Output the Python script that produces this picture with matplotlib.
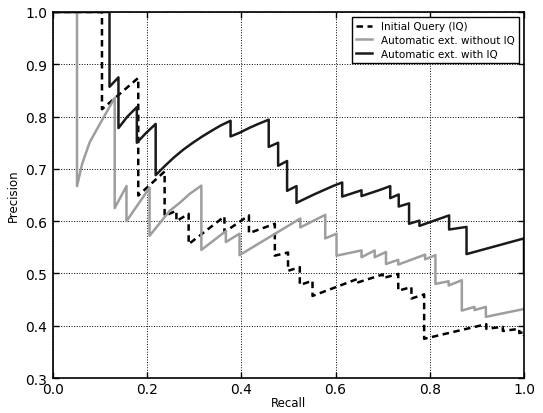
import matplotlib
matplotlib.use('Agg')
import matplotlib.pyplot as plt

# Initial Query (IQ) - dashed black
recallIQ = [0.0, 0.104, 0.104, 0.181, 0.181, 0.237, 0.237, 0.262, 0.262, 0.288, 0.288,
            0.364, 0.364, 0.416, 0.416, 0.471, 0.471, 0.499, 0.499, 0.524, 0.524,
            0.551, 0.551, 0.648, 0.648, 0.700, 0.700, 0.733, 0.733, 0.761, 0.761,
            0.788, 0.788, 0.920, 0.920, 0.955, 0.955, 0.990, 0.990, 1.0, 1.0]
precisionIQ = [1.0, 1.0, 0.814, 0.874, 0.649, 0.695, 0.610, 0.620, 0.600, 0.614, 0.556,
               0.609, 0.579, 0.611, 0.577, 0.595, 0.534, 0.540, 0.505, 0.512, 0.478,
               0.486, 0.457, 0.490, 0.483, 0.498, 0.491, 0.499, 0.467, 0.474, 0.452,
               0.460, 0.375, 0.403, 0.394, 0.398, 0.390, 0.394, 0.386, 0.388, 0.380]

# Automatic extension without IQ - gray
recallNoIQ = [0.0, 0.051, 0.051, 0.062, 0.078, 0.099, 0.131, 0.131, 0.156, 0.156, 0.205, 0.205,
              0.248, 0.269, 0.290, 0.315, 0.315, 0.367, 0.367, 0.396, 0.396, 0.525, 0.525,
              0.578, 0.578, 0.602, 0.602, 0.655, 0.655, 0.683, 0.683, 0.707, 0.707,
              0.733, 0.733, 0.790, 0.790, 0.812, 0.812, 0.840, 0.840, 0.868, 0.868,
              0.895, 0.895, 0.919, 0.919, 1.0]
precisionNoIQ = [1.0, 1.0, 0.667, 0.710, 0.751, 0.785, 0.836, 0.625, 0.667, 0.600, 0.664, 0.572,
                 0.620, 0.635, 0.652, 0.668, 0.545, 0.581, 0.560, 0.576, 0.535, 0.605, 0.588,
                 0.612, 0.567, 0.576, 0.534, 0.544, 0.531, 0.544, 0.531, 0.541, 0.518,
                 0.526, 0.517, 0.536, 0.527, 0.535, 0.480, 0.485, 0.477, 0.487, 0.429,
                 0.436, 0.430, 0.436, 0.417, 0.432]

# Automatic extension with IQ - solid black
recallWithIQ = [0.0, 0.120, 0.120, 0.139, 0.139, 0.158, 0.178, 0.178, 0.198, 0.218, 0.218,
                0.238, 0.257, 0.277, 0.297, 0.317, 0.337, 0.356, 0.377, 0.377, 0.396, 0.416,
                0.436, 0.458, 0.458, 0.478, 0.478, 0.497, 0.497, 0.517, 0.517, 0.554, 0.594,
                0.614, 0.614, 0.655, 0.655, 0.695, 0.716, 0.716, 0.734, 0.734, 0.756, 0.756,
                0.778, 0.778, 0.841, 0.841, 0.878, 0.878, 1.0, 1.0]
precisionWithIQ = [1.0, 1.0, 0.857, 0.875, 0.778, 0.800, 0.818, 0.750, 0.769, 0.786, 0.688,
                   0.706, 0.722, 0.737, 0.750, 0.762, 0.773, 0.783, 0.792, 0.762, 0.769, 0.778,
                   0.786, 0.794, 0.742, 0.750, 0.706, 0.715, 0.658, 0.667, 0.635, 0.651, 0.667,
                   0.674, 0.647, 0.659, 0.648, 0.660, 0.667, 0.644, 0.651, 0.628, 0.634, 0.595,
                   0.601, 0.591, 0.611, 0.584, 0.589, 0.537, 0.567, 0.500]

fig = plt.figure(figsize=(5.43, 4.14), dpi=100)
ax = fig.add_axes([0.0976, 0.0845, 0.8674, 0.8841])

ax.plot(recallIQ, precisionIQ, color='black', linewidth=1.8, linestyle=(0, (2.6, 1.8)),
        label='Initial Query (IQ)')
ax.plot(recallNoIQ, precisionNoIQ, color='#9e9e9e', linewidth=1.8,
        label='Automatic ext. without IQ')
ax.plot(recallWithIQ, precisionWithIQ, color='#1a1a1a', linewidth=1.8,
        label='Automatic ext. with IQ')

ax.set_xlim(0.0, 1.0)
ax.set_ylim(0.3, 1.0)
ax.set_xticks([0.0, 0.2, 0.4, 0.6, 0.8, 1.0])
ax.set_yticks([0.3, 0.4, 0.5, 0.6, 0.7, 0.8, 0.9, 1.0])
ax.xaxis.set_major_formatter(matplotlib.ticker.FormatStrFormatter('%.1f'))
ax.yaxis.set_major_formatter(matplotlib.ticker.FormatStrFormatter('%.1f'))
ax.tick_params(direction='in', top=True, right=True, length=4, width=1, labelsize=10)
ax.tick_params(axis='x', pad=3)
ax.tick_params(axis='y', pad=4)
ax.grid(True, color='black', linestyle=':', linewidth=0.7)
for spine in ax.spines.values():
    spine.set_linewidth(1.2)

ax.set_xlabel('Recall', fontsize=8.5, labelpad=0)
ax.set_ylabel('Precision', fontsize=8.5, labelpad=4)

leg = ax.legend(loc='upper right', fontsize=7.5, handlelength=1.6, handletextpad=0.8,
                labelspacing=0.35, borderaxespad=0.5, fancybox=False, framealpha=1)
leg.get_frame().set_edgecolor('black')
leg.get_frame().set_linewidth(1.0)

plt.savefig('out.png', dpi=100)
